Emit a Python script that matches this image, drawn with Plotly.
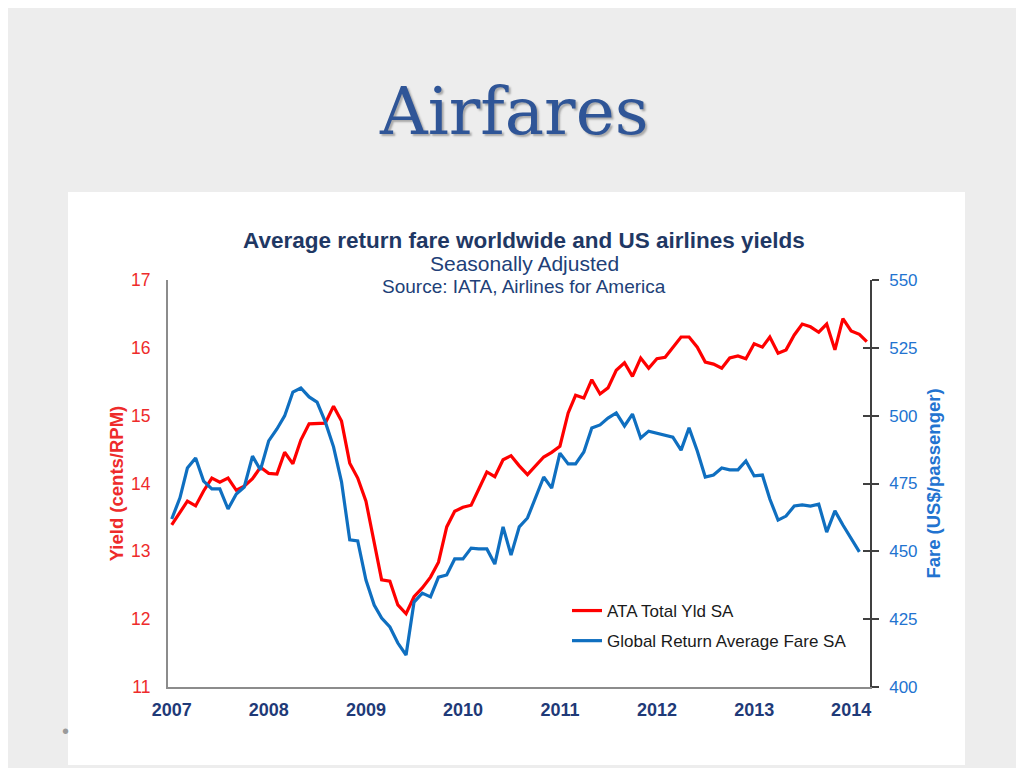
import pandas as pd
import plotly.graph_objects as go

# ---- data (monthly, Jan 2007 onwards) ----
first_month = "2007-01-01"

yield_cents = [
    13.39, 13.58, 13.74, 13.67, 13.89, 14.08, 14.02, 14.08, 13.90, 13.96, 14.07, 14.24,
    14.15, 14.14, 14.46, 14.29, 14.64, 14.88, 14.88, 14.89, 15.14, 14.92, 14.30, 14.08,
    13.74, 13.12, 12.58, 12.56, 12.21, 12.08, 12.33, 12.46, 12.62, 12.84, 13.36, 13.59,
    13.65, 13.68, 13.90, 14.17, 14.10, 14.35, 14.41, 14.26, 14.13, 14.26, 14.39, 14.46,
    14.55, 15.04, 15.30, 15.26, 15.53, 15.32, 15.41, 15.67, 15.78, 15.58, 15.85, 15.70,
    15.84, 15.86, 16.01, 16.16, 16.16, 16.01, 15.79, 15.76, 15.70, 15.85, 15.88, 15.84,
    16.06, 16.01, 16.16, 15.92, 15.97, 16.19, 16.35, 16.31, 16.23, 16.35, 15.97, 16.43,
    16.25, 16.20, 16.09,
]

fare_usd = [
    461.9, 469.7, 480.7, 484.4, 475.9, 473.0, 473.0, 465.6, 471.1, 473.7, 485.1, 480.0,
    490.7, 495.1, 499.9, 508.7, 510.2, 506.9, 505.0, 497.7, 488.5, 475.6, 454.2, 453.8,
    439.4, 430.2, 425.4, 422.1, 416.2, 411.8, 431.3, 434.6, 433.2, 440.5, 441.3, 447.2,
    447.2, 451.2, 450.9, 450.9, 445.3, 459.0, 448.6, 459.0, 462.3, 469.7, 477.4, 473.3,
    486.2, 482.2, 482.2, 486.6, 495.5, 496.6, 499.1, 501.0, 496.2, 500.6, 491.8, 494.3,
    493.6, 492.9, 492.1, 487.3, 495.5, 487.0, 477.4, 478.1, 480.7, 480.0, 480.0, 483.3,
    477.8, 478.1, 469.3, 461.5, 463.0, 466.7, 467.1, 466.7, 467.4, 457.1, 464.9, 459.7,
    454.9, 449.8,
]

yield_ticks = [11, 12, 13, 14, 15, 16, 17]
fare_ticks = [400, 425, 450, 475, 500, 525, 550]
year_ticks = ["2007", "2008", "2009", "2010", "2011", "2012", "2013", "2014"]

months_yield = pd.date_range(first_month, periods=len(yield_cents), freq="MS")
months_fare = pd.date_range(first_month, periods=len(fare_usd), freq="MS")

RED = "#FF0000"
BLUE = "#0F6FC0"
RED_TXT = "#EE2B2B"
BLUE_TXT = "#2273D0"
NAVY = "#1F3864"
FONT = "Liberation Sans, Arial, sans-serif"

W, H, OFF = 1024, 768, 8  # page body margin offsets the figure by 8px


def px(x):
    return (x - OFF) / W


def py(y):
    return (H - (y - OFF)) / H


fig = go.Figure()
fig.add_trace(go.Scatter(
    x=months_yield, y=yield_cents, mode="lines", name="ATA Total Yld SA",
    line=dict(color=RED, width=3.2), yaxis="y", legendgroup="a"))
fig.add_trace(go.Scatter(
    x=months_fare, y=fare_usd, mode="lines", name="Global Return Average Fare SA",
    line=dict(color=BLUE, width=3.2), yaxis="y2", legendgroup="b"))
# invisible copy that anchors the inner half of the right axis ticks
fig.add_trace(go.Scatter(
    x=months_fare, y=fare_usd, mode="lines", showlegend=False, hoverinfo="skip",
    line=dict(color="rgba(0,0,0,0)", width=0), yaxis="y3"))

xd = [px(168), px(870)]
yd = [py(687), py(280)]

fig.update_layout(
    width=W, height=H,
    margin=dict(l=0, r=0, t=0, b=0, autoexpand=False),
    paper_bgcolor="#EDEDED",
    plot_bgcolor="white",
    font=dict(family=FONT),
    xaxis=dict(
        domain=xd, type="date", automargin=False,
        range=["2006-12-18", "2014-03-13"],
        tickvals=[f"{y}-01-01" for y in year_ticks], ticktext=year_ticks,
        showgrid=False, zeroline=False,
        showline=True, linecolor="#8C8C8C", linewidth=2,
        ticks="outside", ticklen=5, tickcolor="rgba(0,0,0,0)",
        tickfont=dict(size=18, color="#1F3A78", family=FONT, weight="bold"),
    ),
    yaxis=dict(
        domain=yd, range=[11, 17], tickvals=yield_ticks, automargin=False,
        showgrid=False, zeroline=False,
        showline=True, linecolor="#8C8C8C", linewidth=2,
        ticks="outside", ticklen=12, tickcolor="rgba(0,0,0,0)",
        tickfont=dict(size=17.5, color=RED_TXT),
        title=dict(text="Yield (cents/RPM)", standoff=3,
                   font=dict(size=18.5, color=RED_TXT, weight="bold")),
    ),
    yaxis2=dict(
        domain=yd, range=[400, 550], tickvals=fare_ticks, automargin=False,
        overlaying="y", side="right", anchor="x",
        showgrid=False, zeroline=False,
        showline=True, linecolor="#404040", linewidth=1.6,
        ticks="outside", ticklen=7, tickwidth=1.6, tickcolor="#404040",
        ticklabelstandoff=7,
        tickfont=dict(size=17, color=BLUE_TXT),
        title=dict(text="Fare (US$/passenger)", standoff=10,
                   font=dict(size=18.5, color=BLUE_TXT, weight="bold")),
    ),
    yaxis3=dict(
        domain=yd, range=[400, 550], tickvals=fare_ticks, automargin=False,
        overlaying="y", side="right", anchor="x",
        showgrid=False, zeroline=False, showline=False,
        ticks="inside", ticklen=7, tickwidth=1.6, tickcolor="#404040",
        showticklabels=False,
    ),
    legend=dict(
        x=px(567), y=py(593), xanchor="left", yanchor="top",
        bgcolor="rgba(0,0,0,0)", itemwidth=30, tracegroupgap=5,
        font=dict(size=17, color="#1A1A1A", family=FONT),
    ),
    showlegend=True,
)

# white slide panel
fig.add_shape(type="rect", xref="paper", yref="paper",
              x0=px(68), x1=px(965), y0=py(765), y1=py(192),
              fillcolor="white", line=dict(width=0), layer="below")

# slide title with a soft shadow
fig.add_annotation(text="Airfares", xref="paper", yref="paper",
                   x=px(514), y=py(112), showarrow=False,
                   xanchor="center", yanchor="middle",
                   font=dict(family="DejaVu Serif, Liberation Serif, serif", size=66,
                             color="#2F5597", shadow="2px 2px 2px rgba(40,40,40,0.35)"))

# chart titles
fig.add_annotation(text="<b>Average return fare worldwide and US airlines yields</b>",
                   xref="paper", yref="paper", x=px(524), y=py(240),
                   showarrow=False, xanchor="center", yanchor="middle",
                   font=dict(size=22.5, color=NAVY))
fig.add_annotation(text="Seasonally Adjusted",
                   xref="paper", yref="paper", x=px(524), y=py(263),
                   showarrow=False, xanchor="center", yanchor="middle",
                   font=dict(size=21, color="#213F78"))
fig.add_annotation(text="Source: IATA, Airlines for America",
                   xref="paper", yref="paper", x=px(524), y=py(286),
                   showarrow=False, xanchor="center", yanchor="middle",
                   font=dict(size=19, color="#213F78"))

# small slide bullet
fig.add_annotation(text="•", xref="paper", yref="paper", x=px(65), y=py(731),
                   showarrow=False, xanchor="center", yanchor="middle",
                   font=dict(size=20, color="#9A9A9A"))

fig.write_html("out.html")
